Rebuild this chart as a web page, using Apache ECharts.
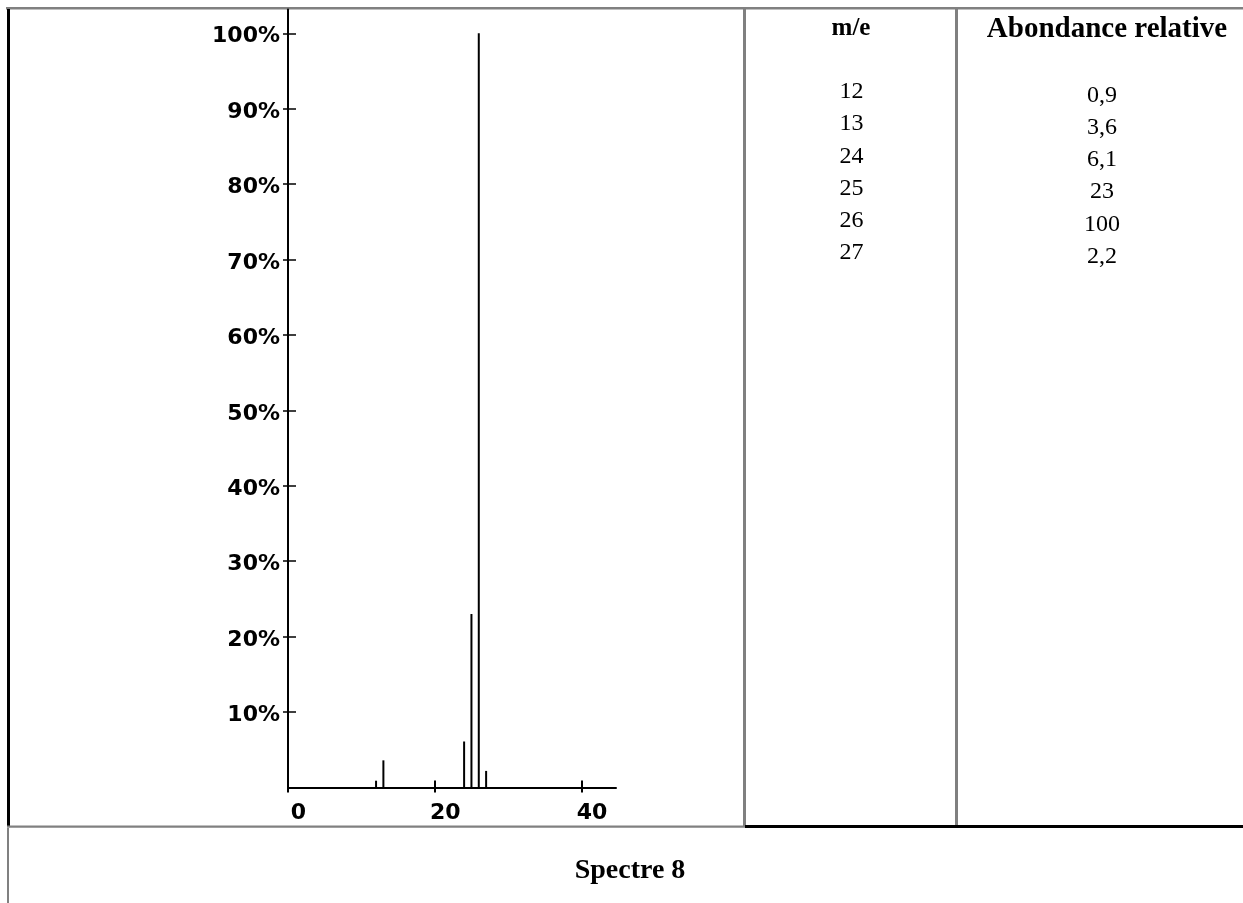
<!DOCTYPE html>
<html>
<head>
<meta charset="utf-8">
<title>Spectre 8</title>
<script src="https://cdn.jsdelivr.net/npm/echarts@6/dist/echarts.min.js"></script>
<style>
  html, body { margin: 0; padding: 0; background: #ffffff; }
  #chart { width: 1243px; height: 903px; }
</style>
</head>
<body>
<div id="chart"></div>
<script>
// Mass spectrum: m/e ratios and their relative abundances (%)
const massRatios = [12, 13, 24, 25, 26, 27];
const relativeAbundance = [0.9, 3.6, 6.1, 23, 100, 2.2];

// Axis tick values
const yTickValues = [10, 20, 30, 40, 50, 60, 70, 80, 90, 100];
const xTickValues = [0, 20, 40];
const xInnerTickValues = [20, 40];

// Texts of the side table
const headerMass = 'm/e';
const headerAbundance = 'Abondance relative';
const caption = 'Spectre 8';

const GRAY = '#808080';
const BLACK = '#000000';
const tickFont = { fontFamily: 'DejaVu Sans', fontWeight: 'bold', fontSize: 22, color: BLACK };
const serif = 'Liberation Serif';

const chart = echarts.init(document.getElementById('chart'), null, { renderer: 'canvas' });

// Both grids share the same geometry: the second one only carries the
// inner half of the ticks so that every tick crosses its axis.
const gridBox = { left: 288, top: 9.5, width: 328, height: 778 };
const xRange = { min: 0, max: 44.7 };
const yRange = { min: 0, max: 103.15 };

const abundanceText = v => String(v).replace('.', ',');

// Table cell rules
const rules = [
  { x: 6, y: 7, w: 1240, h: 2.5, c: GRAY },      // top edge
  { x: 7, y: 9, w: 3, h: 817, c: BLACK },        // left edge of the spectrum cell
  { x: 7, y: 825.5, w: 739, h: 2.3, c: GRAY },   // bottom edge of the spectrum cell
  { x: 743, y: 9, w: 3, h: 817, c: GRAY },       // m/e column
  { x: 955, y: 9, w: 3, h: 817, c: GRAY },       // abundance column
  { x: 745, y: 825, w: 500, h: 3, c: BLACK },    // bottom edge of the table
  { x: 7, y: 828, w: 2, h: 80, c: GRAY }         // caption row
];

const graphics = rules.map(r => ({
  type: 'rect',
  silent: true,
  shape: { x: r.x, y: r.y, width: r.w, height: r.h },
  style: { fill: r.c }
}));

graphics.push({
  type: 'text', silent: true, x: 851, y: 29,
  style: { text: headerMass, font: 'bold 25px "' + serif + '"', fill: BLACK, align: 'center', verticalAlign: 'middle' }
});
graphics.push({
  type: 'text', silent: true, x: 1107, y: 30,
  style: { text: headerAbundance, font: 'bold 29px "' + serif + '"', fill: BLACK, align: 'center', verticalAlign: 'middle' }
});

massRatios.forEach((m, i) => {
  graphics.push({
    type: 'text', silent: true, x: 851.5, y: 92 + i * 32.2,
    style: { text: String(m), font: '24px "' + serif + '"', fill: BLACK, align: 'center', verticalAlign: 'middle' }
  });
  graphics.push({
    type: 'text', silent: true, x: 1102, y: 95.5 + i * 32.2,
    style: { text: abundanceText(relativeAbundance[i]), font: '24px "' + serif + '"', fill: BLACK, align: 'center', verticalAlign: 'middle' }
  });
});

graphics.push({
  type: 'text', silent: true, x: 630, y: 871,
  style: { text: caption, font: 'bold 28px "' + serif + '"', fill: BLACK, align: 'center', verticalAlign: 'middle' }
});

const option = {
  backgroundColor: '#ffffff',
  animation: false,
  grid: [
    Object.assign({ containLabel: false }, gridBox),
    Object.assign({ containLabel: false }, gridBox)
  ],
  xAxis: [
    {
      type: 'value', gridIndex: 0, min: xRange.min, max: xRange.max,
      axisLine: { show: true, onZero: false, lineStyle: { color: BLACK, width: 2 } },
      axisTick: { show: true, inside: false, length: 5, customValues: xTickValues, lineStyle: { color: BLACK, width: 2 } },
      axisLabel: Object.assign({ show: true, margin: 15, customValues: xTickValues, padding: [0, 0, 0, 21] }, tickFont),
      splitLine: { show: false }
    },
    {
      type: 'value', gridIndex: 1, min: xRange.min, max: xRange.max,
      axisLine: { show: false },
      axisTick: { show: true, inside: true, length: 7, customValues: xInnerTickValues, lineStyle: { color: BLACK, width: 2 } },
      axisLabel: { show: false },
      splitLine: { show: false }
    }
  ],
  yAxis: [
    {
      type: 'value', gridIndex: 0, min: yRange.min, max: yRange.max,
      axisLine: { show: true, onZero: false, lineStyle: { color: BLACK, width: 2 } },
      axisTick: { show: true, inside: false, length: 5, customValues: yTickValues, lineStyle: { color: BLACK, width: 1.5 } },
      axisLabel: Object.assign({
        show: true, margin: 8, customValues: yTickValues,
        formatter: '{pct|{value}%}',
        rich: { pct: { fontFamily: 'DejaVu Sans', fontWeight: 'bold', fontSize: 22, color: BLACK, padding: [7, 0, 0, 0] } }
      }, tickFont),
      splitLine: { show: false }
    },
    {
      type: 'value', gridIndex: 1, min: yRange.min, max: yRange.max,
      axisLine: { show: false },
      axisTick: { show: true, inside: true, length: 8, customValues: yTickValues, lineStyle: { color: BLACK, width: 1.5 } },
      axisLabel: { show: false },
      splitLine: { show: false }
    }
  ],
  series: [
    {
      type: 'bar',
      xAxisIndex: 0,
      yAxisIndex: 0,
      barWidth: 2,
      itemStyle: { color: BLACK },
      silent: true,
      data: massRatios.map((m, i) => [m, relativeAbundance[i]])
    }
  ],
  graphic: { elements: graphics }
};

chart.setOption(option);
</script>
</body>
</html>
